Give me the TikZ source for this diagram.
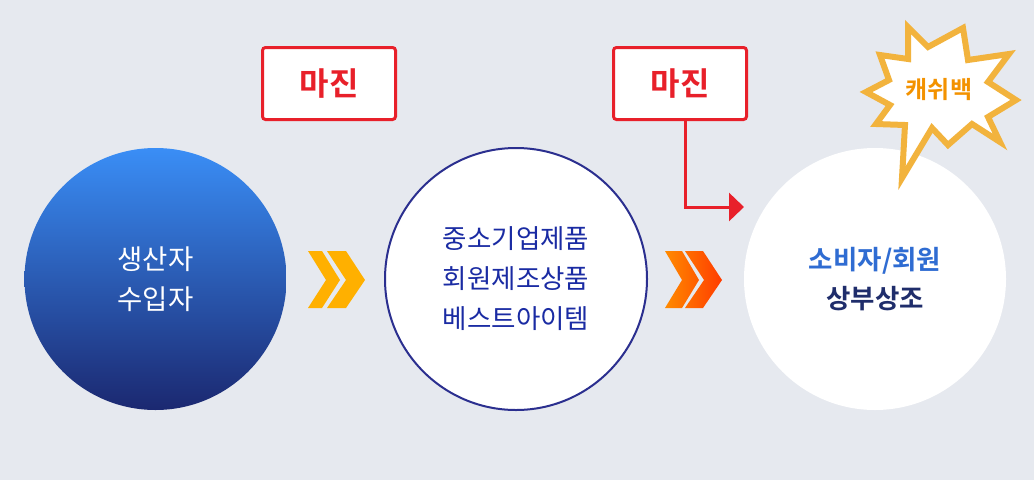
\documentclass[tikz,border=0pt]{standalone}
\usepackage{fontspec}
\setmainfont{Noto Sans CJK KR}[BoldFont={Noto Sans CJK KR Bold}]
\usetikzlibrary{arrows.meta}

\definecolor{bggray}{HTML}{E6E9EF}
\definecolor{bluetop}{HTML}{3A8EF6}
\definecolor{bluebot}{HTML}{1B2870}
\definecolor{navyline}{HTML}{2B2F8F}
\definecolor{navytext}{HTML}{1A2BA3}
\definecolor{marginred}{HTML}{E8202A}
\definecolor{chevyellow}{HTML}{FFB000}
\definecolor{chevorange}{HTML}{FF8A00}
\definecolor{chevred}{HTML}{FF3C00}
\definecolor{burstline}{HTML}{F2B33D}
\definecolor{cashorange}{HTML}{F39200}
\definecolor{memberblue}{HTML}{2F6CD2}
\definecolor{mutualnavy}{HTML}{1F2D6B}

\begin{document}
\begin{tikzpicture}[x=1pt,y=-1pt,
    bubble/.style={circle, minimum size=262pt, inner sep=0pt, align=center},
    marginbox/.style={draw=marginred, line width=3pt, fill=white, rounded corners=3pt,
        minimum width=133pt, minimum height=72pt, text=marginred,
        font=\fontsize{32}{32}\selectfont\bfseries},
    redarrow/.style={draw=marginred, line width=3pt, -{Triangle[length=15pt,width=28pt]}}]
    % Background
    \fill[bggray] (0,0) rectangle (1034,480);

    % Circles
    \shade[top color=bluetop, bottom color=bluebot] (155.5,279) circle (131pt);
    \node[bubble, text=white, font=\fontsize{27.5}{40}\selectfont] (maker) at (155.5,279) {생산자\\수입자};
    \node[bubble, fill=white, draw=navyline, line width=2pt, text=navytext,
        font=\fontsize{26.5}{40}\selectfont] (goods) at (516,279) {중소기업제품\\회원제조상품\\베스트아이템};
    \node[bubble, fill=white, font=\fontsize{26.5}{39}\selectfont\bfseries] (member) at (875,279)
        {\textcolor{memberblue}{소비자/회원}\\\textcolor{mutualnavy}{상부상조}};

    % Chevrons
    \fill[chevyellow] (308,251) -- (322,251) -- (340,280) -- (322,308) -- (308,308) -- (326,280) -- cycle;
    \fill[chevyellow] (327,251) -- (346,251) -- (365,280) -- (346,308) -- (327,308) -- (346,280) -- cycle;
    \shade[left color=chevorange, right color=chevred]
        (665,251) -- (682,251) -- (699,280) -- (682,308) -- (665,308) -- (682,280) -- cycle
        (685,251) -- (703,251) -- (722,280) -- (703,308) -- (685,308) -- (704,280) -- cycle;

    % Margin boxes
    \node[marginbox] (margin1) at (329,83.5) {마진};
    \node[marginbox] (margin2) at (680,83.5) {마진};
    \coordinate (arrowtip) at (744,207);
    \draw[redarrow] ([xshift=5pt]margin2.south) |- (arrowtip);

    % Cashback burst
    \draw[burstline, line width=6pt, fill=white, line join=miter]
        (908,27) -- (928,47) -- (963,28) -- (968,60) -- (1009,54) -- (988,82) -- (1016,100)
        -- (988,117) -- (1000,142) -- (972,124) -- (948,145) -- (932,128) -- (902,178)
        -- (905,125) -- (876,124) -- (890,105) -- (866,92) -- (889,80) -- (880,55)
        -- (908,59) -- cycle;
    \node[text=cashorange, font=\fontsize{24}{24}\selectfont\bfseries] (cash) at (939,90) {캐쉬백};
\end{tikzpicture}
\end{document}
